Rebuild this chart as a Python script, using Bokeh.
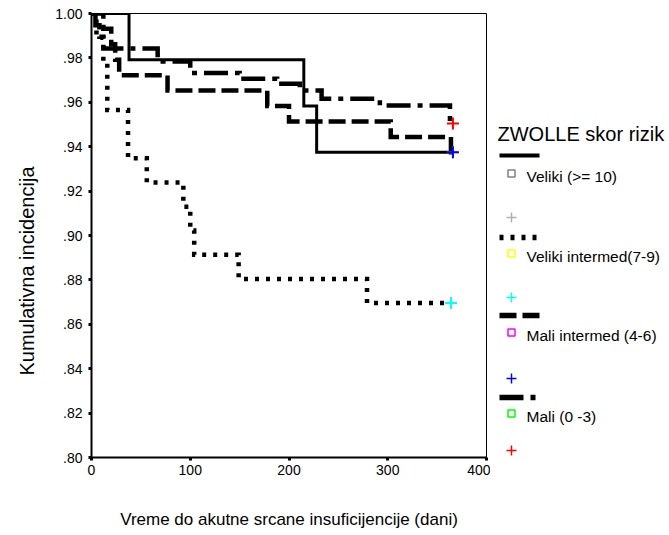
from bokeh.plotting import figure
from bokeh.models import Range1d, FixedTicker, CustomJSTickFormatter, Title
from bokeh.layouts import row
from bokeh.embed import file_html
from bokeh.resources import INLINE
from bokeh.core.properties import value

FONT = "Liberation Sans"

# ---------------- data ----------------
group_names = ["Veliki (>= 10)", "Veliki intermed(7-9)", "Mali intermed (4-6)", "Mali (0 -3)"]

# Kaplan-Meier steps (days, cumulative value)
veliki_t = [0, 38, 215, 228, 366]
veliki_s = [1.0, 0.9792, 0.9583, 0.9375, 0.9375]

vint_t = [0, 5, 12, 16, 37, 56, 93, 100, 104, 149, 279, 364]
vint_s = [1.0, 0.9891, 0.9783, 0.9565, 0.9348, 0.9239, 0.9130, 0.9022, 0.8913, 0.8804, 0.8696, 0.8696]

mint_t = [0, 12, 20, 24, 28, 77, 178, 200, 303, 364, 366]
mint_s = [1.0, 0.9931, 0.9861, 0.9792, 0.9722, 0.9653, 0.9583, 0.9514, 0.9444, 0.9375, 0.9375]

mali_t = [0, 4, 8, 12, 67, 100, 150, 188, 211, 233, 292, 363, 366]
mali_s = [1.0, 0.9947, 0.9895, 0.9842, 0.9784, 0.9732, 0.9706, 0.9683, 0.9653, 0.9616, 0.9586, 0.9505, 0.9505]

# censored end markers
cens_t = [366, 364, 366, 366]
cens_s = [0.9375, 0.8696, 0.9375, 0.9505]
cens_colors = ["#b0b0b0", "#00ffff", "#0000ff", "#ff0000"]
square_colors = ["#808080", "#ffff00", "#ff00ff", "#00ff00"]

y_ticks = [0.80, 0.82, 0.84, 0.86, 0.88, 0.90, 0.92, 0.94, 0.96, 0.98, 1.00]
x_ticks = [0, 100, 200, 300, 400]

x_title = "Vreme do akutne srcane insuficijencije (dani)"
y_title = "Kumulativna incidencija"
legend_title = "ZWOLLE skor rizik"

dashes = ["solid", "4 7", "17 6", "24 7 5 7"]
widths = [3, 4.5, 4.5, 4.5]

# ---------------- main plot ----------------
p = figure(width=490, height=535, x_range=Range1d(0, 400), y_range=Range1d(0.80, 1.00),
           toolbar_location=None, output_backend="svg",
           min_border_left=91, min_border_right=4, min_border_top=13, min_border_bottom=78)
p.background_fill_color = "white"
p.border_fill_color = "white"
p.outline_line_color = "black"
p.outline_line_width = 1
p.grid.grid_line_color = None

series = [(veliki_t, veliki_s), (vint_t, vint_s), (mint_t, mint_s), (mali_t, mali_s)]
for (t, s), dash, w in zip(series, dashes, widths):
    p.step(t, s, mode="after", line_color="black", line_width=w, line_dash=dash,
           line_join="miter")

p.scatter(cens_t, cens_s, marker="cross", size=12, line_color=cens_colors, line_width=2)

for ax in (p.xaxis[0], p.yaxis[0]):
    ax.axis_line_width = 2
    ax.axis_line_color = "black"
    ax.major_tick_in = 0
    ax.major_tick_out = 3
    ax.major_tick_line_width = 3
    ax.minor_tick_line_color = None
    ax.major_label_text_font = FONT
    ax.major_label_text_font_size = "14px"
    ax.major_label_text_color = "black"

p.yaxis.ticker = FixedTicker(ticks=y_ticks)
p.yaxis.formatter = CustomJSTickFormatter(code="return tick.toFixed(2).replace(/^0/, '');")
p.yaxis.major_label_standoff = 6

p.xaxis.ticker = FixedTicker(ticks=x_ticks)
p.xaxis.major_label_standoff = 4
p.xaxis.axis_label = x_title
p.xaxis.axis_label_text_font = FONT
p.xaxis.axis_label_text_font_size = "17px"
p.xaxis.axis_label_text_font_style = "normal"
p.xaxis.axis_label_text_color = "black"
p.xaxis.axis_label_standoff = 32

p.add_layout(Title(text=y_title, align="left", offset=82, vertical_align="top", standoff=26,
                   text_font=FONT, text_font_size="20px", text_font_style="normal",
                   text_color="black"), "left")

# ---------------- legend panel ----------------
leg = figure(width=179, height=535, x_range=Range1d(490, 669), y_range=Range1d(457, 13),
             toolbar_location=None, output_backend="svg",
             min_border_left=0, min_border_right=0, min_border_top=13, min_border_bottom=78,
             x_axis_location=None, y_axis_location=None)
leg.outline_line_color = None
leg.grid.grid_line_color = None
leg.background_fill_color = "white"
leg.border_fill_color = "white"

leg.text(x=[497], y=[133], text=[legend_title], text_font=value(FONT),
         text_font_size="20px", text_baseline="middle", text_color="black")

line_y = [155, 237, 315, 397]
square_y = [173, 253, 332, 413]
cross_y = [217, 297, 378, 450]
for i in range(4):
    leg.line([499, 539], [line_y[i], line_y[i]], line_color="black", line_width=widths[i] + 1,
             line_dash=dashes[i])
leg.scatter([511] * 4, square_y, marker="square", size=7, fill_color=None,
            line_color=square_colors, line_width=1.5)
leg.text(x=[526] * 4, y=[y + 3 for y in square_y], text=group_names, text_font=value(FONT),
         text_font_size="15.5px", text_baseline="middle", text_color="black")
leg.scatter([511] * 4, cross_y, marker="cross", size=10, line_color=cens_colors, line_width=1.5)

layout = row(p, leg)
open("out.html", "w").write(file_html(layout, INLINE))
